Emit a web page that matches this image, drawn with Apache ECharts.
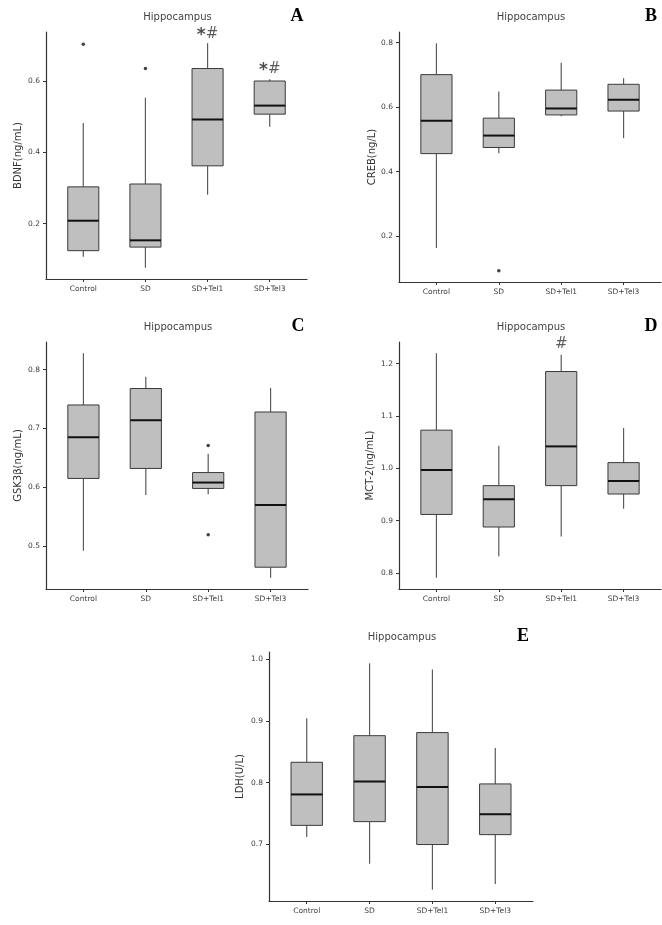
<!DOCTYPE html>
<html>
<head>
<meta charset="utf-8">
<script src="https://cdn.jsdelivr.net/npm/echarts@6/dist/echarts.min.js"></script>
<style>
  html, body { margin: 0; padding: 0; background: #fff; }
  #chart { width: 662px; height: 925px; }
</style>
</head>
<body>
<div id="chart"></div>
<script>
const categories = ['Control', 'SD', 'SD+Tel1', 'SD+Tel3'];

// box stats per group: [min, Q1, median, Q3, max]
const bdnfStats = [
  [0.107, 0.124, 0.208, 0.303, 0.482],
  [0.076, 0.134, 0.153, 0.311, 0.553],
  [0.281, 0.362, 0.492, 0.635, 0.706],
  [0.472, 0.507, 0.531, 0.600, 0.605]
];
const crebStats = [
  [0.163, 0.456, 0.558, 0.701, 0.798],
  [0.457, 0.475, 0.512, 0.566, 0.649],
  [0.572, 0.576, 0.596, 0.653, 0.738],
  [0.504, 0.588, 0.623, 0.671, 0.690]
];
const gsk3bStats = [
  [0.492, 0.615, 0.685, 0.740, 0.828],
  [0.587, 0.632, 0.714, 0.768, 0.788],
  [0.588, 0.598, 0.608, 0.625, 0.657],
  [0.446, 0.464, 0.570, 0.728, 0.769]
];
const mct2Stats = [
  [0.791, 0.912, 0.997, 1.073, 1.220],
  [0.832, 0.888, 0.941, 0.967, 1.043],
  [0.870, 0.967, 1.042, 1.185, 1.217],
  [0.923, 0.951, 0.976, 1.011, 1.077]
];
const ldhStats = [
  [0.712, 0.731, 0.781, 0.833, 0.904],
  [0.669, 0.737, 0.802, 0.876, 0.993],
  [0.627, 0.700, 0.793, 0.881, 0.983],
  [0.636, 0.716, 0.749, 0.798, 0.856]
];

// outliers: [group position, value]
const bdnfOutliers = [[1, 0.703], [2, 0.635]];
const crebOutliers = [[2, 0.093]];
const gsk3bOutliers = [[3, 0.671], [3, 0.519]];
const mct2Outliers = [];
const ldhOutliers = [];

// significance marks: [group position, value, text]
const bdnfMarks = [[3, 0.731, '*#'], [4, 0.634, '*#']];
const mct2Marks = [[3, 1.238, '#']];

const bdnfTicks = [0.2, 0.4, 0.6];
const crebTicks = [0.2, 0.4, 0.6, 0.8];
const gsk3bTicks = [0.5, 0.6, 0.7, 0.8];
const mct2Ticks = [0.8, 0.9, 1.0, 1.1, 1.2];
const ldhTicks = [0.7, 0.8, 0.9, 1.0];

const panels = [
  { letter: 'A', yName: 'BDNF(ng/mL)', stats: bdnfStats, outliers: bdnfOutliers, marks: bdnfMarks, ticks: bdnfTicks,
    grid: { left: 46, top: 32, width: 261, height: 247 }, nameGap: 23 },
  { letter: 'B', yName: 'CREB(ng/L)', stats: crebStats, outliers: crebOutliers, marks: [], ticks: crebTicks,
    grid: { left: 399, top: 32, width: 262, height: 250 }, nameGap: 22 },
  { letter: 'C', yName: 'GSK3β(ng/mL)', stats: gsk3bStats, outliers: gsk3bOutliers, marks: [], ticks: gsk3bTicks,
    grid: { left: 46, top: 342, width: 262, height: 247 }, nameGap: 23 },
  { letter: 'D', yName: 'MCT-2(ng/mL)', stats: mct2Stats, outliers: mct2Outliers, marks: mct2Marks, ticks: mct2Ticks,
    grid: { left: 399, top: 342, width: 262, height: 247 }, nameGap: 24 },
  { letter: 'E', yName: 'LDH(U/L)', stats: ldhStats, outliers: ldhOutliers, marks: [], ticks: ldhTicks,
    grid: { left: 269, top: 652, width: 264, height: 249 }, nameGap: 24 }
];

function renderBox(params, api) {
  const x = api.value(0);
  const half = api.size([0.5, 0])[0] / 2;
  const pMin = api.coord([x, api.value(1)]);
  const pQ1 = api.coord([x, api.value(2)]);
  const pMed = api.coord([x, api.value(3)]);
  const pQ3 = api.coord([x, api.value(4)]);
  const pMax = api.coord([x, api.value(5)]);
  const whisker = { stroke: '#5a5a5a', lineWidth: 1.2 };
  return {
    type: 'group',
    children: [
      { type: 'line', shape: { x1: pQ3[0], y1: pQ3[1], x2: pMax[0], y2: pMax[1] }, style: whisker },
      { type: 'line', shape: { x1: pQ1[0], y1: pQ1[1], x2: pMin[0], y2: pMin[1] }, style: whisker },
      { type: 'rect', shape: { x: pQ3[0] - half, y: pQ3[1], width: half * 2, height: pQ1[1] - pQ3[1] },
        style: { fill: '#bfbfbf', stroke: '#3a3a3a', lineWidth: 1 } },
      { type: 'line', shape: { x1: pMed[0] - half, y1: pMed[1], x2: pMed[0] + half, y2: pMed[1] },
        style: { stroke: '#111', lineWidth: 2 } }
    ]
  };
}

const grids = [], xAxes = [], yAxes = [], series = [], graphics = [];
const font = 'DejaVu Sans';

function markText(t) {
  return t.replace('*', '{star|*}').replace('#', '{hash|#}');
}

panels.forEach((p, i) => {
  grids.push(p.grid);
  let lo = Infinity, hi = -Infinity;
  p.stats.forEach(s => { lo = Math.min(lo, s[0]); hi = Math.max(hi, s[4]); });
  p.outliers.forEach(o => { lo = Math.min(lo, o[1]); hi = Math.max(hi, o[1]); });
  const pad = (hi - lo) * 0.05;

  xAxes.push({
    gridIndex: i, type: 'value', min: 0.4, max: 4.6,
    axisLine: { lineStyle: { color: '#333', width: 1.2 } },
    axisTick: { customValues: [1, 2, 3, 4], length: 3, lineStyle: { color: '#333' } },
    axisLabel: { customValues: [1, 2, 3, 4], formatter: v => categories[Math.round(v) - 1],
      fontFamily: font, fontSize: 7.5, color: '#3c3c3c', margin: 6 },
    splitLine: { show: false }
  });
  yAxes.push({
    gridIndex: i, type: 'value', min: lo - pad, max: hi + pad,
    name: p.yName, nameLocation: 'middle', nameGap: p.nameGap, nameRotate: 90,
    nameTextStyle: { fontFamily: font, fontSize: 10, color: '#333' },
    axisLine: { show: true, lineStyle: { color: '#333', width: 1.2 } },
    axisTick: { show: true, customValues: p.ticks, length: 3, lineStyle: { color: '#333' } },
    axisLabel: { customValues: p.ticks, formatter: v => v.toFixed(1),
      fontFamily: font, fontSize: 7.5, color: '#3c3c3c', margin: 6 },
    splitLine: { show: false }
  });

  series.push({
    type: 'custom', xAxisIndex: i, yAxisIndex: i,
    data: p.stats.map((s, k) => [k + 1].concat(s)),
    encode: { x: 0, y: [1, 2, 3, 4, 5] },
    renderItem: renderBox, silent: true
  });
  if (p.outliers.length) {
    series.push({
      type: 'scatter', xAxisIndex: i, yAxisIndex: i, data: p.outliers,
      symbolSize: 3.5, itemStyle: { color: '#111' }, silent: true
    });
  }
  if (p.marks.length) {
    series.push({
      type: 'scatter', xAxisIndex: i, yAxisIndex: i, clip: false, silent: true,
      data: p.marks.map(m => ({ value: [m[0], m[1]], name: m[2] })),
      symbolSize: 1, itemStyle: { color: 'rgba(0,0,0,0)' },
      label: { show: true, position: 'inside', formatter: params => markText(params.name),
        rich: {
          star: { fontFamily: font, fontSize: 17, fontWeight: 'bold', color: '#222', padding: [3, 0, 0, 0] },
          hash: { fontFamily: font, fontSize: 15, color: '#333' }
        } }
    });
  }

  const g = p.grid;
  graphics.push({
    type: 'text', x: g.left + g.width / 2 + 1, y: g.top - 15,
    style: { text: 'Hippocampus', font: '10px "DejaVu Sans"', fill: '#444', textAlign: 'center', textVerticalAlign: 'middle' }
  });
  graphics.push({
    type: 'text', x: g.left + g.width - 10, y: g.top - 16,
    style: { text: p.letter, font: 'bold 18px "Liberation Serif"', fill: '#000', textAlign: 'center', textVerticalAlign: 'middle' }
  });
});

const chart = echarts.init(document.getElementById('chart'), null, { renderer: 'canvas' });
chart.setOption({
  animation: false,
  backgroundColor: '#fff',
  grid: grids,
  xAxis: xAxes,
  yAxis: yAxes,
  series: series,
  graphic: graphics
});
</script>
</body>
</html>
